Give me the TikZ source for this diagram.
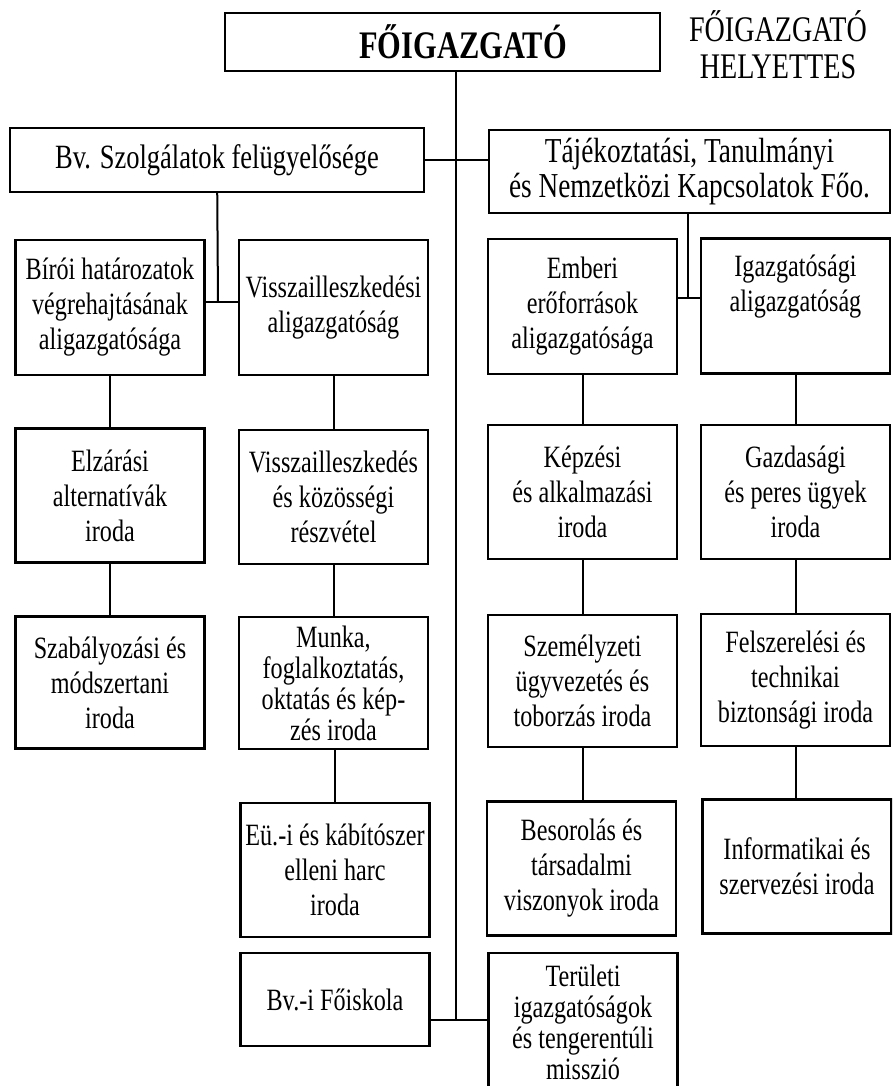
\documentclass[tikz,border=0pt]{standalone}
\usepackage{fontspec}
\setmainfont[FakeStretch=0.78]{Liberation Serif}

\begin{document}
\begin{tikzpicture}[x=1pt,y=-1pt,
    box/.style={draw,line width=2.2pt,minimum width=189pt,inner sep=1.5pt,
      align=center,font=\fontsize{31}{35}\selectfont},
    tight/.style={font=\fontsize{31}{31}\selectfont},
    link/.style={draw,line width=2pt}]

        \useasboundingbox (0,0) rectangle (892,1086);
        \clip (0,0) rectangle (892,1086);

        % top of the chart
        \node[box,minimum width=435pt,minimum height=58pt,
          font=\bfseries\fontsize{39}{40}\selectfont] (fo) at (442.5,42) {\hspace*{41pt}FŐIGAZGATÓ};
        \node[align=center,font=\fontsize{36}{37}\selectfont] (hely) at (778,45) {FŐIGAZGATÓ\\HELYETTES};

        \node[box,minimum width=414pt,minimum height=64pt,
          font=\fontsize{34}{36}\selectfont] (bv) at (217,160) {Bv. Szolgálatok felügyelősége};
        \node[box,minimum width=401pt,minimum height=83pt,
          font=\fontsize{35}{35}\selectfont] (taj) at (689.5,171.5) {Tájékoztatási, Tanulmányi\\és Nemzetközi Kapcsolatok Főo.};

        \begin{scope}[every node/.style={box,minimum height=135pt}]
          \node (biroi) at (110,307.5)   {Bírói határozatok\\végrehajtásának\\aligazgatósága};
          \node (visz)  at (333.5,307.5) {Visszailleszkedési\\aligazgatóság};
          \node (ember) at (582.5,306.5) {Emberi\\erőforrások\\aligazgatósága};
          \node (igazg) at (795.5,306)   {Igazgatósági\\aligazgatóság\\[10pt]};
        \end{scope}

        \begin{scope}[every node/.style={box,minimum height=134pt}]
          \node (elzar) at (110,495.5)   {Elzárási\\alternatívák\\iroda};
          \node (viszk) at (333.5,497)   {Visszailleszkedés\\és közösségi\\részvétel};
          \node (kepz)  at (582.5,492)   {Képzési\\és alkalmazási\\iroda};
          \node (gazd)  at (795.5,492)   {Gazdasági\\és peres ügyek\\iroda};
        \end{scope}

        \begin{scope}[every node/.style={box,minimum height=132pt}]
          \node (szab)  at (110,682.5)   {Szabályozási és\\módszertani\\iroda};
          \node[tight] (munka) at (333.5,683) {Munka,\\foglalkoztatás,\\oktatás és kép-\\zés iroda};
          \node (szem)  at (582.5,681)   {Személyzeti\\ügyvezetés és\\toborzás iroda};
          \node (felsz) at (795.5,680)   {Felszerelési és\\technikai\\biztonsági iroda};
        \end{scope}

        \begin{scope}[every node/.style={box,minimum height=134pt}]
          \node (eu)    at (335,870)     {Eü.-i és kábítószer\\elleni harc\\iroda};
          \node (besor) at (581.5,868.5) {Besorolás és\\társadalmi\\viszonyok iroda};
          \node (info)  at (797,866.5)   {Informatikai és\\szervezési iroda};
        \end{scope}

        \node[box,minimum height=93pt] (bvfo) at (335,999.5) {Bv.-i Főiskola};
        \node[box,tight,minimum height=139pt] (terul) at (583,1022.5) {Területi\\igazgatóságok\\és tengerentúli\\misszió};

        \coordinate (mt) at (456,71);
        \coordinate (mb) at (456,1020);
        \coordinate (jl) at (218,302);
        \coordinate (jr) at (688,298);

        \begin{scope}[every edge/.style={link}]
          \path (mt) edge (mb);
          \path (bv.east) edge (bv.east -| taj.west);
          \path (bvfo.east |- mb) edge (terul.west |- mb);

          \path (bv) edge (jl);
          \path (biroi.east |- jl) edge (visz.west |- jl);
          \path (taj.south -| jr) edge (jr);
          \path (ember.east |- jr) edge (igazg.west |- jr);

          \path (biroi) edge (elzar);
          \path (elzar) edge (szab);
          \path (visz)  edge (viszk);
          \path (viszk) edge (munka);
          \path (munka.south -| eu) edge (eu);
          \path (ember) edge (kepz);
          \path (kepz)  edge (szem);
          \path (szem)  edge (szem.south |- besor.north);
          \path (igazg) edge (igazg.south |- gazd.north);
          \path (gazd)  edge (felsz);
          \path (felsz) edge (felsz.south |- info.north);
        \end{scope}

      \end{tikzpicture}
\end{document}
